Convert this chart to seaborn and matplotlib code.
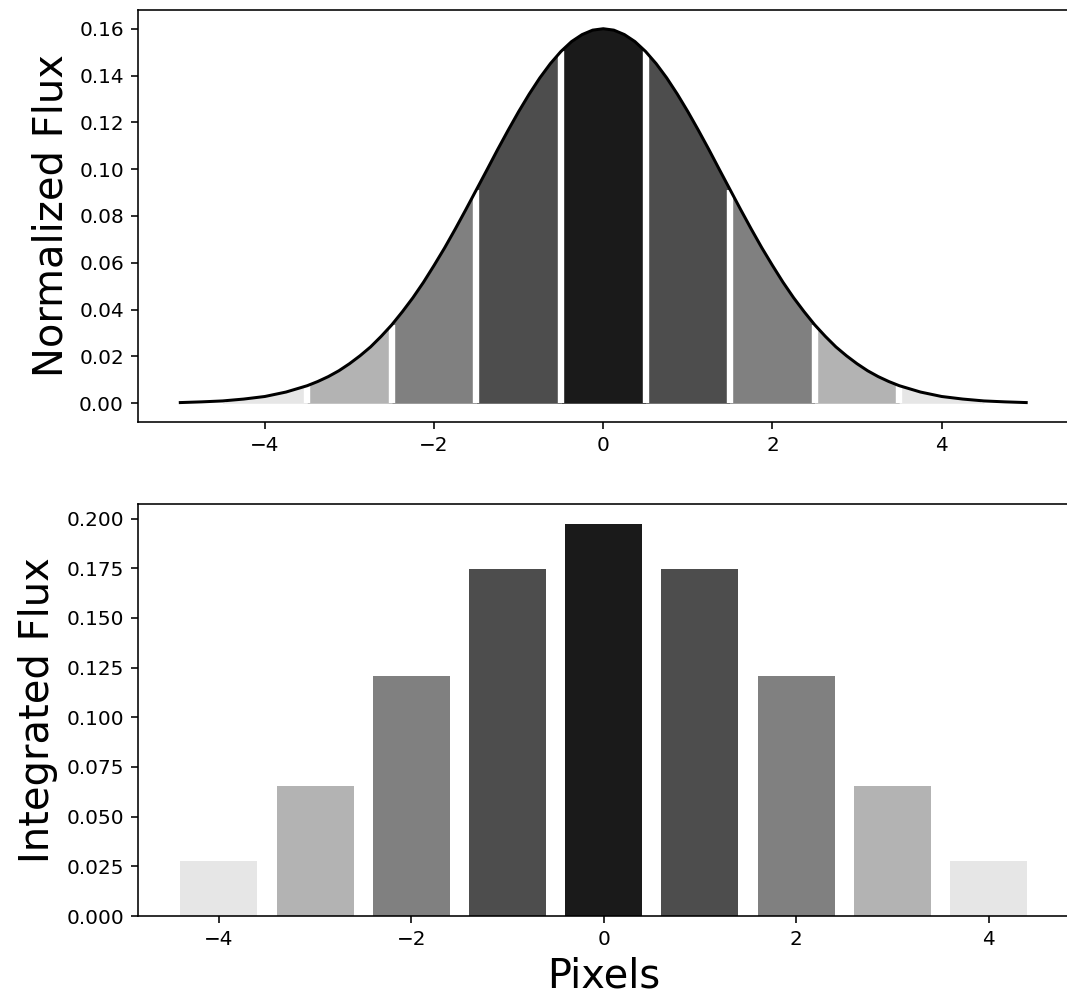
import numpy as np
import pandas as pd
import matplotlib
matplotlib.use("Agg")
import matplotlib.pyplot as plt
import seaborn as sns

# --- data ---
curve_x = [-5.0, -4.75, -4.5, -4.25, -4.0, -3.75, -3.5, -3.375, -3.25, -3.125,
           -3.0, -2.875, -2.75, -2.625, -2.5, -2.375, -2.25, -2.125, -2.0, -1.875,
           -1.75, -1.625, -1.5, -1.375, -1.25, -1.125, -1.0, -0.875, -0.75, -0.625,
           -0.5, -0.375, -0.25, -0.125,
           0.0,
           0.125, 0.25, 0.375, 0.5, 0.625, 0.75, 0.875, 1.0, 1.125, 1.25,
           1.375, 1.5, 1.625, 1.75, 1.875, 2.0, 2.125, 2.25, 2.375, 2.5,
           2.625, 2.75, 2.875, 3.0, 3.125, 3.25, 3.375, 3.5, 3.75, 4.0,
           4.25, 4.5, 4.75, 5.0]
curve_y = [0.0003, 0.0006, 0.0010, 0.0018, 0.0029, 0.0048, 0.0075, 0.0093, 0.0114, 0.0139,
           0.0169, 0.0203, 0.0241, 0.0286, 0.0335, 0.0391, 0.0451, 0.0517, 0.0589, 0.0664,
           0.0744, 0.0827, 0.0912, 0.0997, 0.1083, 0.1166, 0.1246, 0.1321, 0.1390, 0.1451,
           0.1503, 0.1545, 0.1575, 0.1594,
           0.1600,
           0.1594, 0.1575, 0.1545, 0.1503, 0.1451, 0.1390, 0.1321, 0.1246, 0.1166, 0.1083,
           0.0997, 0.0912, 0.0827, 0.0744, 0.0664, 0.0589, 0.0517, 0.0451, 0.0391, 0.0335,
           0.0286, 0.0241, 0.0203, 0.0169, 0.0139, 0.0114, 0.0093, 0.0075, 0.0048, 0.0029,
           0.0018, 0.0010, 0.0006, 0.0003]

pixels = [-4, -3, -2, -1, 0, 1, 2, 3, 4]
integrated_flux = [0.0279, 0.0655, 0.1210, 0.1747, 0.1974, 0.1747, 0.1210, 0.0655, 0.0279]
pixel_colors = ["#e6e6e6", "#b3b3b3", "#808080", "#4d4d4d", "#1a1a1a",
                "#4d4d4d", "#808080", "#b3b3b3", "#e6e6e6"]

# --- figure ---
W, H, DPI = 1067, 996, 144
fig = plt.figure(figsize=(W / DPI, H / DPI), dpi=DPI)
ax1 = fig.add_axes([138 / W, 1 - 422 / H, (1068.5 - 138) / W, (422 - 10) / H])
ax2 = fig.add_axes([138 / W, 1 - 916 / H, (1069.5 - 138) / W, (916 - 504) / H])

cx = np.array(curve_x)
cy = np.array(curve_y)

# shaded pixel regions under the profile
for p, col in zip(pixels, pixel_colors):
    m = (cx >= p - 0.5) & (cx <= p + 0.5)
    ax1.fill_between(cx[m], 0, cy[m], color=col, linewidth=0, zorder=1)

# white separators at pixel boundaries
bounds = [p - 0.5 for p in pixels] + [pixels[-1] + 0.5]
bvals = [cy[np.argmin(np.abs(cx - b))] for b in bounds]
ax1.vlines(bounds, 0, bvals, colors="white", linewidth=3.2, zorder=2)

curve_df = pd.DataFrame({"x": curve_x, "y": curve_y})
sns.lineplot(data=curve_df, x="x", y="y", color="black", linewidth=1.5,
             ax=ax1, zorder=3)
ax1.set_xlim(-5.5, 5.5)
ax1.set_ylim(-0.008, 0.168)
ax1.set_xlabel("")
ax1.set_ylabel("Normalized Flux", fontsize=20)
ax1.set_xticks([-4, -2, 0, 2, 4])

bar_df = pd.DataFrame({"pixel": pixels, "flux": integrated_flux})
pal = {p: c for p, c in zip(pixels, pixel_colors)}
sns.barplot(data=bar_df, x="pixel", y="flux", hue="pixel", palette=pal,
            native_scale=True, legend=False, saturation=1, linewidth=0,
            width=0.8, ax=ax2)
ax2.set_xlim(-4.84, 4.84)
ax2.set_ylim(0, 0.2073)
ax2.set_xticks([-4, -2, 0, 2, 4])
ax2.set_xticklabels(["\u22124", "\u22122", "0", "2", "4"])
ax2.set_xlabel("Pixels", fontsize=20)
ax2.set_ylabel("Integrated Flux", fontsize=20)

# the right spines fall outside the cropped reference image
for ax in (ax1, ax2):
    ax.spines["right"].set_visible(False)

fig.savefig("out.png", dpi=DPI)
